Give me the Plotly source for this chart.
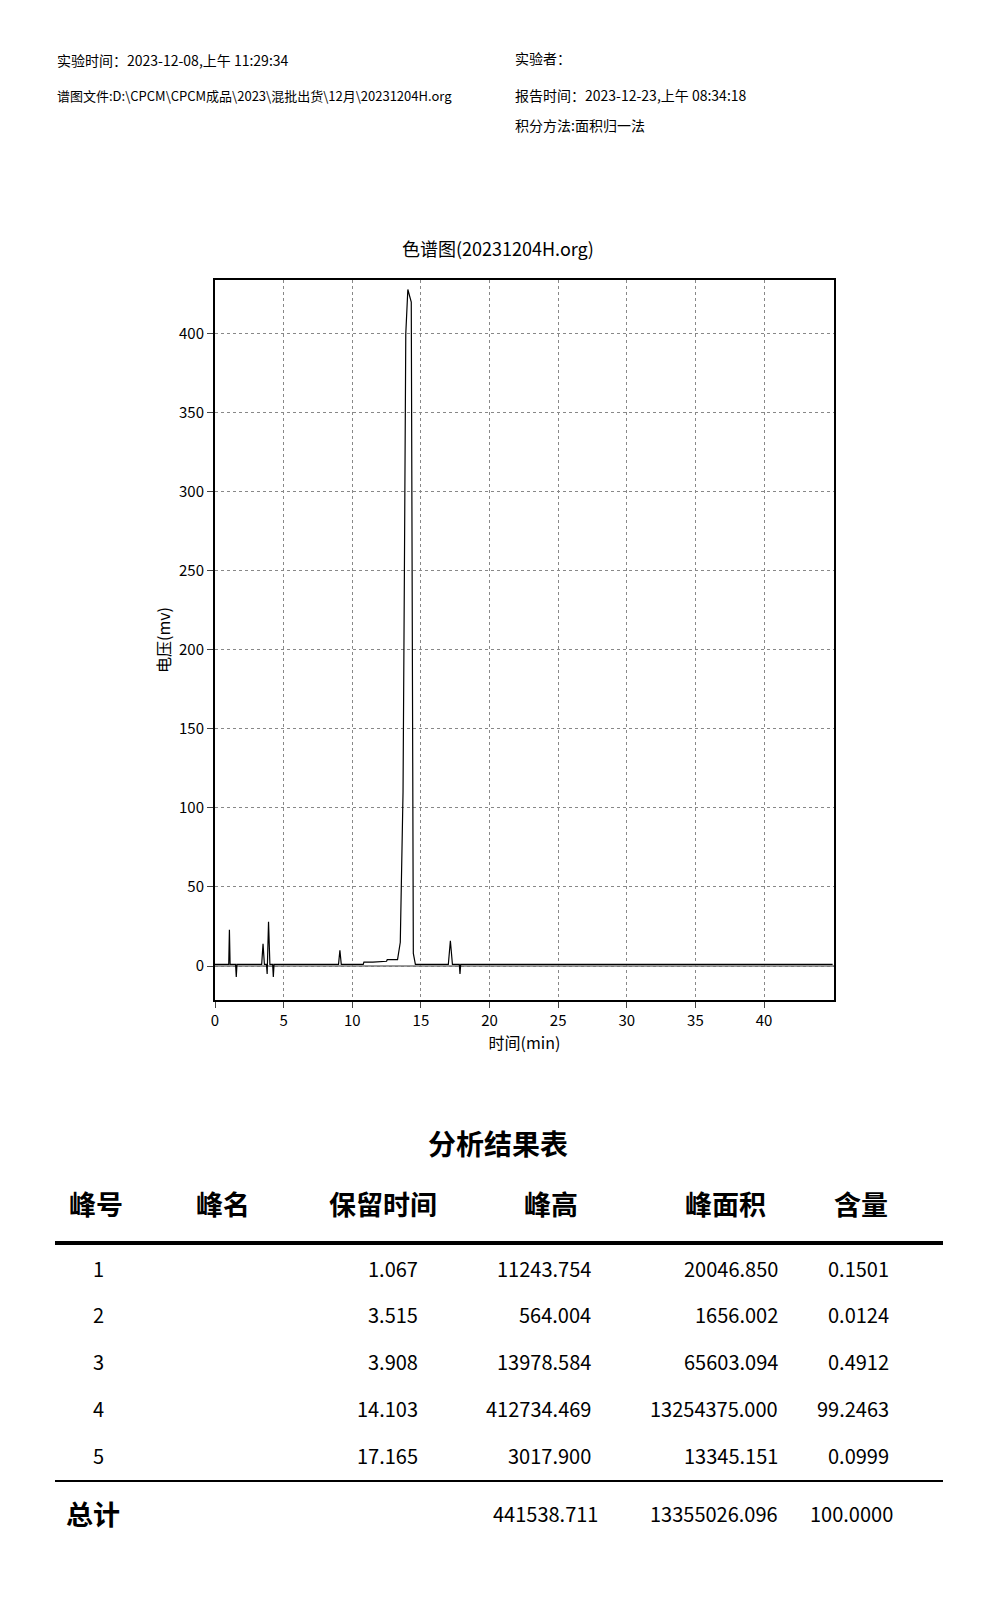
import plotly.graph_objects as go

# chromatogram trace (time in min, voltage in mV)
t = [0.0, 1.0, 1.05, 1.1, 1.5, 1.55, 1.6, 3.4, 3.5, 3.6, 3.75, 3.8, 3.9, 4.0, 4.2, 4.25, 4.3,
     9.0, 9.1, 9.2, 10.8, 10.85, 11.5, 12.5, 12.55, 13.3, 13.5, 13.7, 13.8, 13.9, 14.05, 14.3, 14.45,
     14.6, 17.0, 17.15, 17.3, 17.8, 17.85, 17.9, 45.0]
mv = [1, 1, 23, 1, 1, -7, 1, 1, 14, 1, 1, -5, 28, 1, 1, -7, 1,
      1, 10, 1, 1, 2.5, 2.5, 3, 4, 4, 15, 110, 250, 400, 428, 420, 8,
      1, 1, 16, 1, 1, -5, 1, 1]

peak_no = ["1", "2", "3", "4", "5"]
ret_time = ["1.067", "3.515", "3.908", "14.103", "17.165"]
height = ["11243.754", "564.004", "13978.584", "412734.469", "3017.900"]
area = ["20046.850", "1656.002", "65603.094", "13254375.000", "13345.151"]
content = ["0.1501", "0.0124", "0.4912", "99.2463", "0.0999"]
totals = ["441538.711", "13355026.096", "100.0000"]
headers = ["峰号", "峰名", "保留时间", "峰高", "峰面积", "含量"]

W, H = 970, 1570
L, R, T, B = 207, 826, 272, 992
FONT = "Noto Sans CJK SC"


def px(x):
    return (x - L) / (R - L)


def py(y):
    return (B - y) / (B - T)


fig = go.Figure()
fig.add_trace(go.Scatter(x=[0, 45.1], y=[0, 0], mode="lines", line=dict(color="#777777", width=1.5),
                         hoverinfo="skip"))
fig.add_trace(go.Scatter(x=t, y=mv, mode="lines", line=dict(color="black", width=1.2)))

ann = []


def txt(x, y, s, size=16, xanchor="left", bold=False, fam=FONT):
    ann.append(dict(x=px(x), y=py(y), xref="paper", yref="paper", text=f"<b>{s}</b>" if bold else s,
                    showarrow=False, xanchor=xanchor, yanchor="middle",
                    font=dict(family=fam, size=size, color="black")))


txt(47, 52, "实验时间：2023-12-08,上午 11:29:34", 14)
txt(47, 87, "谱图文件:D:\\CPCM\\CPCM成品\\2023\\混批出货\\12月\\20231204H.org", 13)
txt(505, 50, "实验者：", 14)
txt(505, 87, "报告时间：2023-12-23,上午 08:34:18", 14)
txt(505, 117, "积分方法:面积归一法", 14)
txt(490, 240, "色谱图(20231204H.org)", 18, "center")
txt(490, 1135, "分析结果表", 28, "center", True)

col_x = [88, 215, 375, 543, 717, 853]
for x, h in zip(col_x, headers):
    txt(x, 1195, h, 27, "center", True)
rows_y = [1260, 1306, 1353, 1400, 1447]
for i, y in enumerate(rows_y):
    txt(90, y, peak_no[i], 20, "center")
    txt(412, y, ret_time[i], 20, "right")
    txt(585, y, height[i], 20, "right")
    txt(772, y, area[i], 20, "right")
    txt(883, y, content[i], 20, "right")
txt(85, 1505, "总计", 27, "center", True)
txt(592, 1505, totals[0], 20, "right")
txt(772, 1505, totals[1], 20, "right")
txt(887, 1505, totals[2], 20, "right")

shapes = [
    dict(type="line", xref="paper", yref="paper", x0=px(47), x1=px(935), y0=py(1235), y1=py(1235),
         line=dict(color="black", width=4)),
    dict(type="line", xref="paper", yref="paper", x0=px(47), x1=px(935), y0=py(1473), y1=py(1473),
         line=dict(color="black", width=2)),
]

fig.update_layout(
    width=W, height=H, showlegend=False,
    margin=dict(l=L, r=W - R, t=T, b=H - B),
    paper_bgcolor="white", plot_bgcolor="white",
    font=dict(family=FONT, size=15, color="black"),
    annotations=ann, shapes=shapes,
    xaxis=dict(range=[0, 45.1], tickvals=[0, 5, 10, 15, 20, 25, 30, 35, 40], showgrid=True,
               gridcolor="#888888", griddash="dot", zeroline=False, showline=True, linecolor="black",
               linewidth=2, mirror=True, ticks="outside", ticklen=6,
               title=dict(text="时间(min)", font=dict(size=16), standoff=6)),
    yaxis=dict(range=[-21.5, 434], tickvals=[0, 50, 100, 150, 200, 250, 300, 350, 400], showgrid=True,
               gridcolor="#888888", griddash="dot", zeroline=False, showline=True, linecolor="black",
               linewidth=2, mirror=True, ticks="outside", ticklen=6,
               title=dict(text="电压(mv)", font=dict(size=16), standoff=4)),
)

fig.write_html("out.html")
